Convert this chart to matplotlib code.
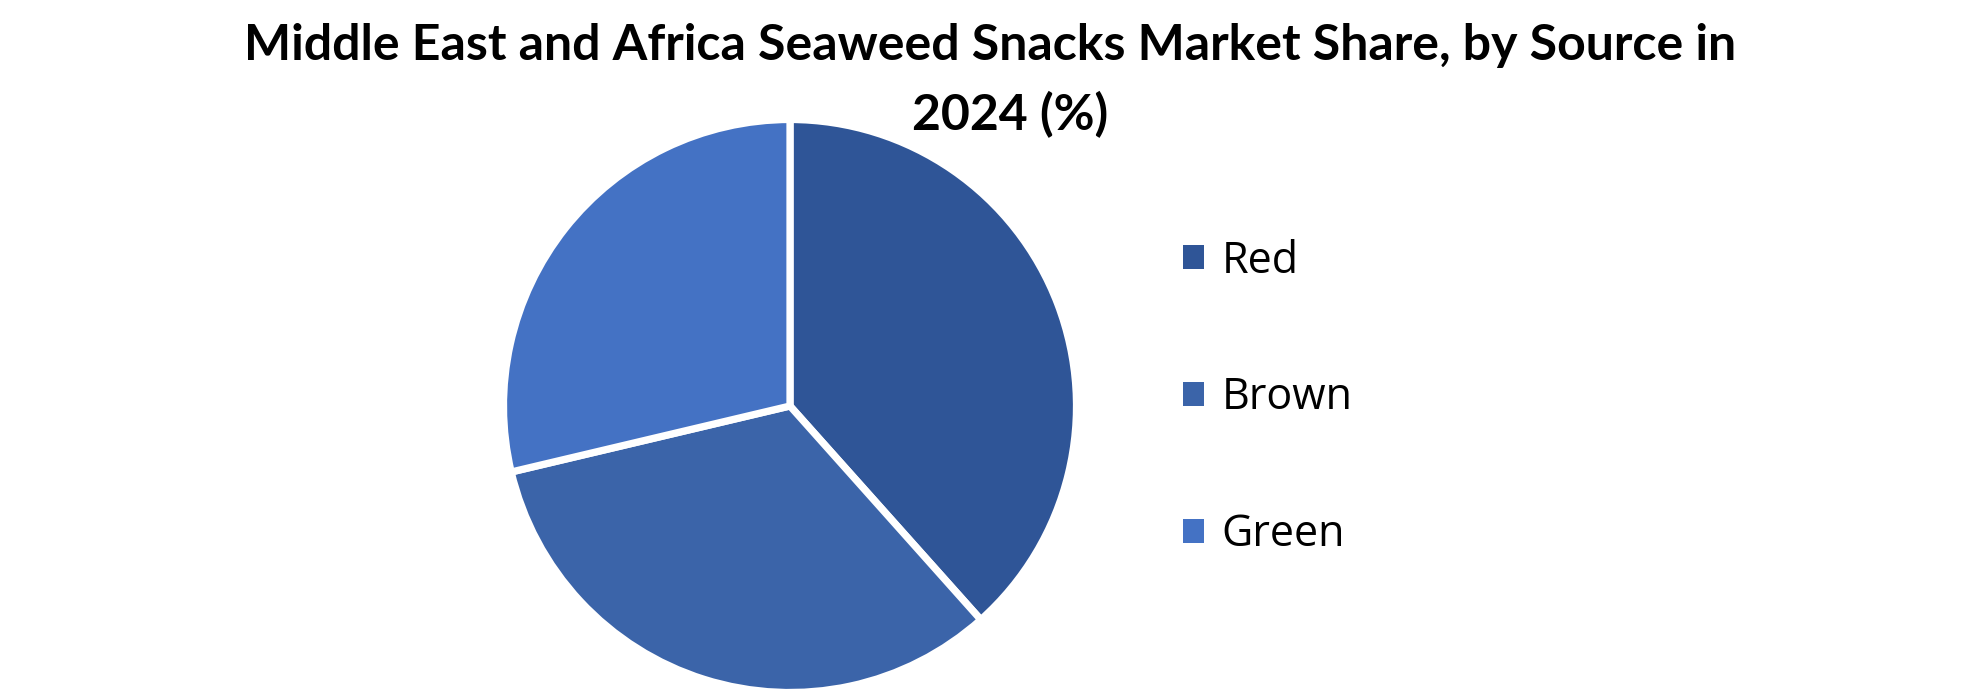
import matplotlib
matplotlib.use("Agg")
import matplotlib.pyplot as plt
from matplotlib.patches import Patch

# data
sources = ["Red", "Brown", "Green"]
shares = [38.4, 32.9, 28.7]
colors = ["#2F5597", "#3B64A9", "#4472C4"]

title_line1 = "Middle East and Africa Seaweed Snacks Market Share, by Source in"
title_line2 = "2024 (%)"

W, H = 1980, 694
fig = plt.figure(figsize=(W / 100, H / 100), dpi=100)

# pie centre ~ (790, 406) px from top-left, visible radius ~283 px
# (the white edge eats half its width off the rim, so add that back)
cx, cy, r = 790, 406, 286.5
ax = fig.add_axes([(cx - r) / W, (H - cy - r) / H, 2 * r / W, 2 * r / H])
wedges, _ = ax.pie(shares, colors=colors, startangle=90, counterclock=False,
                   radius=1.0,
                   wedgeprops=dict(edgecolor="white", linewidth=5.2))
ax.set_xlim(-1, 1)
ax.set_ylim(-1, 1)
ax.set_aspect("auto")
ax.axis("off")

title_font = ["Liberation Sans Narrow", "Lato", "DejaVu Sans"]
fig.text(990 / W, 1 - 46 / H, title_line1, ha="center", va="center",
         fontsize=36, fontweight="bold", family=title_font)
fig.text(1010 / W, 1 - 115 / H, title_line2, ha="center", va="center",
         fontsize=36, fontweight="bold", family=title_font)

handles = [Patch(facecolor=c, edgecolor="none") for c in colors]
leg = fig.legend(handles, sources, loc="center left",
                 bbox_to_anchor=(1183 / W, 1 - 398 / H),
                 frameon=False, prop={"family": "Open Sans", "size": 31},
                 handlelength=0.48, handleheight=0.48, handletextpad=0.42,
                 labelspacing=2.14, borderpad=0, borderaxespad=0)

fig.savefig("out.png", dpi=100, facecolor="white")
